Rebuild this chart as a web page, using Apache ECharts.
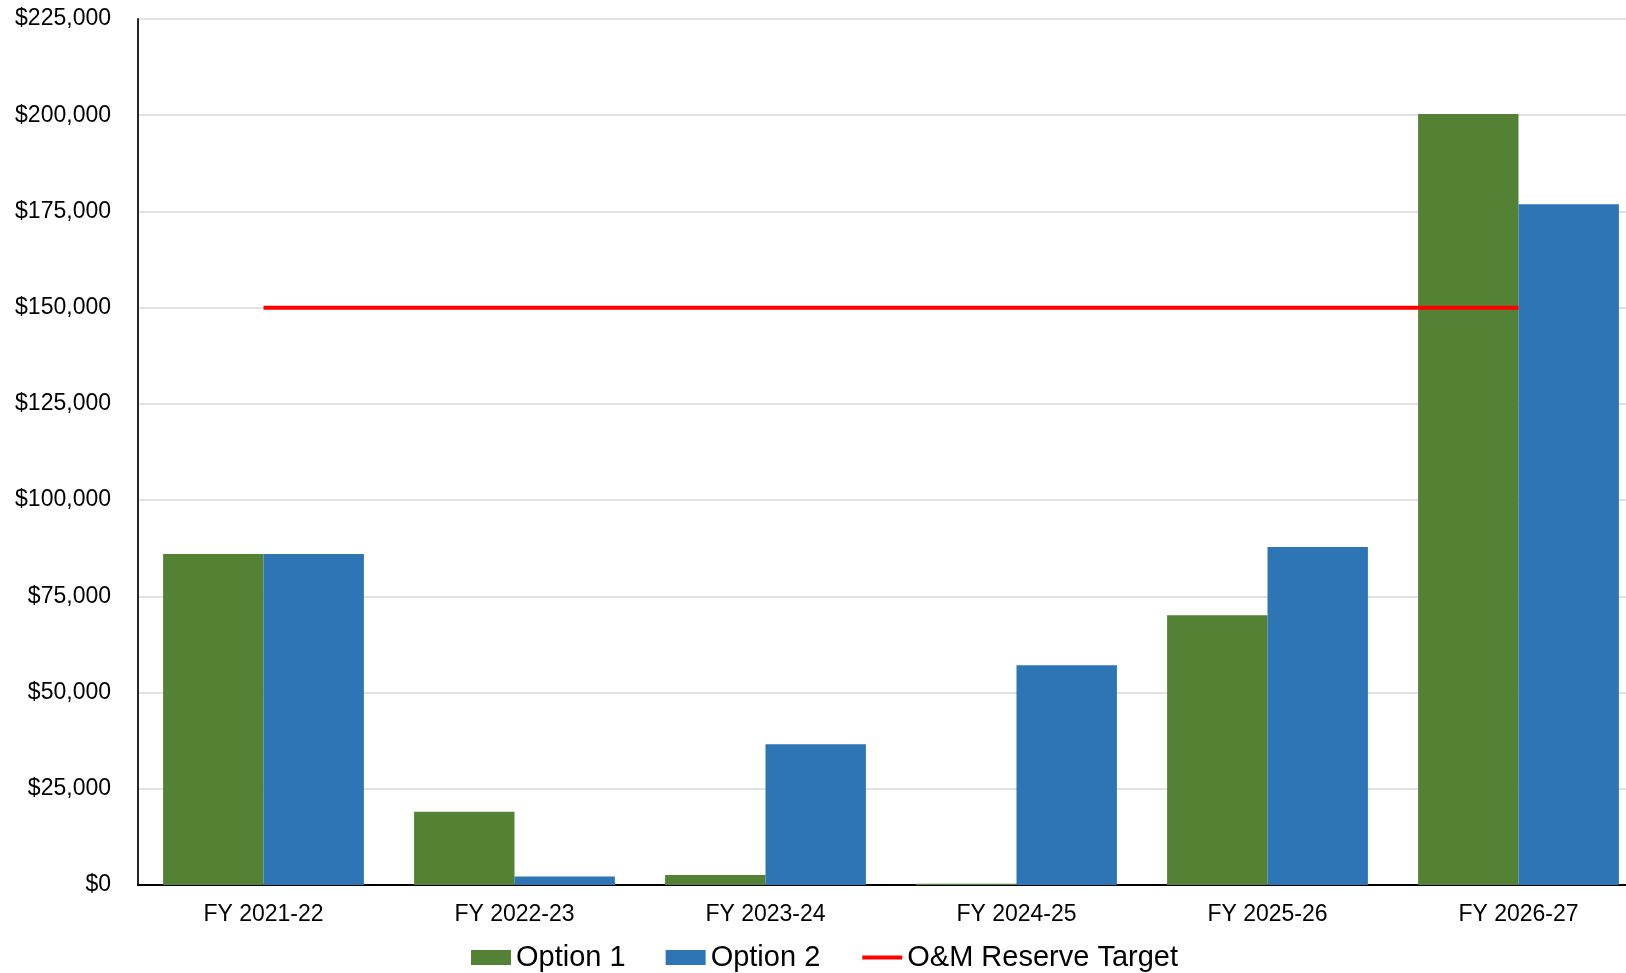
<!DOCTYPE html>
<html>
<head>
<meta charset="utf-8">
<script src="https://cdn.jsdelivr.net/npm/echarts@6/dist/echarts.min.js"></script>
<style>
  html, body { margin: 0; padding: 0; background: #ffffff; overflow: hidden; }
  /* the plot runs a little past the right edge of the page */
  #chart { width: 1650px; height: 973px; }
</style>
</head>
<body>
<div id="chart"></div>
<script>
// Fiscal years on the category axis
const fiscalYears = ['FY 2021-22', 'FY 2022-23', 'FY 2023-24', 'FY 2024-25', 'FY 2025-26', 'FY 2026-27'];

// Projected reserve balances for each option
const option1Values = [86000, 19000, 2600, 300, 70100, 200300];
const option2Values = [86000, 2200, 36600, 57100, 87800, 176900];

// Operations & maintenance reserve target
const reserveTarget = [150000, 150000, 150000, 150000, 150000, 150000];

// Value axis range and step
const yMin = 0;
const yMax = 225000;
const yStep = 25000;

const seriesNames = ['Option 1', 'Option 2', 'O&M Reserve Target'];

const fontFamily = '"Liberation Sans", Arial, Helvetica, sans-serif';

const chart = echarts.init(document.getElementById('chart'), null, { renderer: 'canvas' });

chart.setOption({
  animation: false,
  backgroundColor: '#ffffff',
  textStyle: { fontFamily: fontFamily, color: '#000000' },
  grid: {
    left: 138,
    top: 19,
    width: 1506,
    height: 866,
    containLabel: false
  },
  legend: {
    left: 466,
    top: 938,
    itemWidth: 40,
    itemHeight: 15,
    itemGap: 40,
    textStyle: { fontSize: 29, color: '#000000', fontFamily: fontFamily },
    data: [
      { name: seriesNames[0], icon: 'rect' },
      { name: seriesNames[1], icon: 'rect' },
      { name: seriesNames[2], itemStyle: { opacity: 0 }, lineStyle: { width: 4, color: '#ff0000' } }
    ]
  },
  xAxis: {
    type: 'category',
    data: fiscalYears,
    boundaryGap: true,
    axisLine: { show: true, lineStyle: { color: '#000000', width: 2 } },
    axisTick: { show: false },
    axisLabel: {
      fontSize: 23,
      color: '#000000',
      margin: 18,
      fontFamily: fontFamily
    },
    splitLine: { show: false }
  },
  yAxis: {
    type: 'value',
    min: yMin,
    max: yMax,
    interval: yStep,
    axisLine: { show: true, lineStyle: { color: '#262626', width: 2 } },
    axisTick: { show: false },
    axisLabel: {
      fontSize: 23,
      color: '#000000',
      margin: 27,
      padding: [4, 0, 0, 0],
      fontFamily: fontFamily,
      formatter: function (v) {
        return '$' + v.toLocaleString('en-US');
      }
    },
    splitLine: { show: true, lineStyle: { color: '#d9d9d9', width: 1.5 } }
  },
  series: [
    {
      name: seriesNames[0],
      type: 'bar',
      data: option1Values,
      barGap: '0%',
      barCategoryGap: '20%',
      itemStyle: { color: '#548235' }
    },
    {
      name: seriesNames[1],
      type: 'bar',
      data: option2Values,
      barGap: '0%',
      barCategoryGap: '20%',
      itemStyle: { color: '#2e75b6' }
    },
    {
      name: seriesNames[2],
      type: 'line',
      data: reserveTarget,
      symbol: 'none',
      z: 5,
      lineStyle: { color: '#ff0000', width: 4 },
      itemStyle: { color: '#ff0000' }
    }
  ]
});
</script>
</body>
</html>
